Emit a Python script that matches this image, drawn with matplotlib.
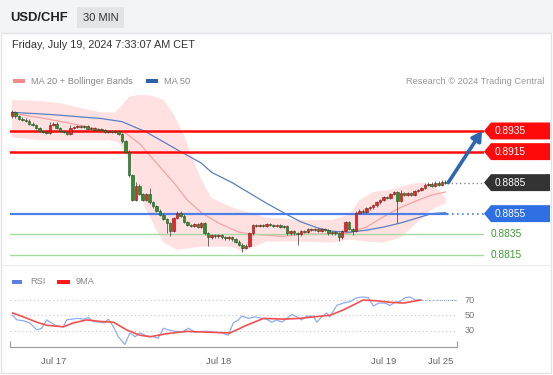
"""
USD/CHF 30 MIN chart (Trading Central style) -> out.png
"""
import matplotlib
matplotlib.use("Agg")
import matplotlib.pyplot as plt
from matplotlib.patches import Rectangle, Polygon

plt.rcParams["font.family"] = ["Liberation Sans", "DejaVu Sans"]

W, H = 553, 375

# ── price data (30 min candles, index = candle number) ─────────────
first_open = 0.8949
closes = [
    0.8953, 0.8949, 0.8947, 0.8946, 0.8945, 0.8942, 0.8941, 0.8938, 0.8935, 0.8934,
    0.8933, 0.8941, 0.8942, 0.8938, 0.8935, 0.8934, 0.8932, 0.8938, 0.8939, 0.8940,
    0.8939, 0.8940, 0.8937, 0.8938, 0.8936, 0.8937, 0.8936, 0.8934, 0.8935, 0.8934,
    0.8935, 0.8932, 0.8925, 0.8915, 0.8892, 0.8868, 0.8882, 0.8874, 0.8868, 0.8874,
    0.8866, 0.8862, 0.8858, 0.8854, 0.8850, 0.8846, 0.8838, 0.8851, 0.8856, 0.8853,
    0.8847, 0.8844, 0.8843, 0.8845, 0.8842, 0.8846, 0.8836, 0.8832, 0.8834, 0.8833,
    0.8834, 0.8832, 0.8831, 0.8832, 0.8830, 0.8828, 0.8825, 0.8822, 0.8824, 0.8836,
    0.8844, 0.8843, 0.8844, 0.8843, 0.8845, 0.8844, 0.8843, 0.8844, 0.8842, 0.8843,
    0.8836, 0.8838, 0.8836, 0.8835, 0.8838, 0.8837, 0.8840, 0.8839, 0.8840, 0.8838,
    0.8840, 0.8839, 0.8836, 0.8837, 0.8836, 0.8832, 0.8838, 0.8847, 0.8840, 0.8838,
    0.8856, 0.8858, 0.8857, 0.8860, 0.8861, 0.8863, 0.8866, 0.8868, 0.8871, 0.8870,
    0.8874, 0.8876, 0.8867, 0.8875, 0.8873, 0.8875, 0.8873, 0.8877, 0.8878, 0.8880,
    0.8883, 0.8884, 0.8882, 0.8885, 0.8883, 0.8886, 0.8885,
]
wick = 0.00012
long_highs = {0: 0.8955, 11: 0.8944, 17: 0.8941, 36: 0.8886, 40: 0.8880, 100: 0.8858, 113: 0.8878}
long_lows = {45: 0.8836, 46: 0.8833, 57: 0.8824, 67: 0.8818, 83: 0.8825, 95: 0.8829,
             99: 0.8834, 112: 0.8846}

# ── indicators ─────────────────────────────────────────────────────
upper_t = [0, 8, 14, 20, 26, 30, 32, 34, 37, 41, 44, 47, 50, 52, 55, 58, 64, 69, 74, 84,
           93, 98, 101, 105, 110, 115, 119, 122, 124, 126]
upper_v = [0.8965, 0.8964, 0.8962, 0.8957, 0.8953, 0.8953, 0.8960, 0.8968, 0.8970, 0.8969,
           0.8965, 0.8951, 0.8931, 0.8912, 0.8888, 0.8870, 0.8861, 0.8856, 0.8851, 0.8849,
           0.8849, 0.8854, 0.8868, 0.8876, 0.8878, 0.8883, 0.8885, 0.8883, 0.8878, 0.8870]
lower_t = [0, 8, 20, 28, 31, 34, 36, 39, 42, 44, 48, 55, 64, 67, 74, 84, 93, 98, 103, 108,
           113, 118, 122, 126]
lower_v = [0.8929, 0.8926, 0.8926, 0.8926, 0.8924, 0.8907, 0.8883, 0.8859, 0.8839, 0.8827,
           0.8820, 0.8823, 0.8823, 0.8818, 0.8828, 0.8828, 0.8827, 0.8830, 0.8828, 0.8827,
           0.8832, 0.8847, 0.8859, 0.8865]
ma20_t = [0, 8, 16, 26, 33, 37, 42, 47, 51, 55, 60, 66, 70, 79, 84, 98, 103, 108, 113, 118, 122, 126]
ma20_v = [0.8952, 0.8948, 0.8943, 0.8936, 0.8933, 0.8923, 0.8904, 0.8885, 0.8868, 0.8856,
          0.8846, 0.8837, 0.8835, 0.8833, 0.8835, 0.8836, 0.8842, 0.8852, 0.8861, 0.8868,
          0.8873, 0.8876]
ma50_t = [0, 11, 26, 32, 39, 49, 55, 58, 64, 68, 74, 80, 84, 89, 93, 98, 103, 108, 113, 118, 122, 126]
ma50_v = [0.8953, 0.8951, 0.8947, 0.8944, 0.8934, 0.8915, 0.8904, 0.8895, 0.8885, 0.8877,
          0.8865, 0.8854, 0.8847, 0.8841, 0.8838, 0.8837, 0.8839, 0.8842, 0.8846, 0.8851,
          0.8855, 0.8856]

# ── RSI panel ─────────────────────────────────────────────────────
rsi_t = [0.2, 1.4, 3.3, 5.2, 7.2, 8.6, 10.1, 11.5, 13.0, 14.9, 15.9, 17.3, 19.3, 20.7, 22.2,
         23.6, 25.6, 27.0, 28.0, 29.5, 30.9, 32.8, 34.3, 35.8, 37.2, 39.2, 41.1, 42.5, 44.0,
         45.4, 47.4, 49.3, 51.3, 53.2, 55.1, 57.1, 59.0, 61.0, 62.9, 64.3, 65.8, 66.8, 68.7,
         70.6, 72.6, 74.0, 75.5, 76.9, 78.4, 79.9, 81.3, 82.8, 84.2, 85.7, 87.6, 88.6, 90.0,
         91.5, 92.4, 94.4, 96.3, 98.3, 100.2, 102.1, 103.6, 105.1, 106.5, 108.4, 109.9, 111.3,
         112.8, 114.2, 115.7, 117.2, 118.8]
rsi_v = [50, 44, 43, 40, 31, 33, 44, 40, 36, 35, 44, 45, 46, 45, 47, 42, 41, 40, 45, 35,
         22, 12, 27, 22, 27, 23, 22, 20, 33, 31, 29, 28, 33, 28, 29, 29, 28, 27, 24, 40,
         44, 49, 46, 48, 46, 45, 41, 44, 41, 46, 51, 48, 44, 49, 49, 41, 48, 53, 48, 63,
         66, 68, 73, 74, 73, 62, 66, 66, 63, 67, 68, 73, 74, 70, 70]
ma9_t = [0.2, 3.3, 7.2, 10.1, 14.9, 17.8, 21.7, 25.6, 29.5, 33.3, 37.2, 40.1, 45.0, 50.8,
         56.6, 63.4, 68.2, 73.1, 78.9, 83.7, 87.6, 92.4, 96.3, 102.1, 106.0, 109.9, 113.8, 118.8]
ma9_v = [53, 48, 41, 37, 35, 40, 44, 42, 41, 31, 24, 22, 26, 29, 28, 27, 37, 46, 45, 46,
         48, 50, 57, 70, 69, 67, 66, 70]
rsi_levels = [30, 50, 70]

# ── levels / axis labels ──────────────────────────────────────────
resistances = [0.8935, 0.8915]
pivot = 0.8855
supports = [0.8835, 0.8815]
last_price = 0.8885
target = 0.8935
date_pos = [12, 60, 108, 124.7]
date_labels = ["Jul 17", "Jul 18", "Jul 19", "Jul 25"]

# ── palette ───────────────────────────────────────────────────────
UP = "#e8262a"
DOWN = "#2f8f2f"
RED = "#ff0a0a"
BLUE_LVL = "#4d7fe8"
GREEN_LVL = "#a9d9a3"
GREEN_TXT = "#3d9b35"


def px(x0, x1):
    return x0 / W, x1 / W


fig = plt.figure(figsize=(W / 100, H / 100), dpi=100, facecolor="white")

# decoration layer in pixel coordinates
ov = fig.add_axes([0, 0, 1, 1], zorder=0)
ov.set_xlim(0, W)
ov.set_ylim(H, 0)
ov.axis("off")
ov.add_patch(Rectangle((0, 0), W, 33, color="#f3f4f6", lw=0))
ov.add_patch(Rectangle((1, 33), W - 3, H - 35, fill=False, ec="#e2e3e6", lw=1))
ov.plot([1, W - 2], [265, 265], color="#ececec", lw=0.8)
ov.text(10, 18, "USD/CHF", fontsize=9.4, fontweight="bold", color="#222", va="center")
ov.add_patch(Rectangle((77, 7), 47, 21, color="#e3e4e7", lw=0))
ov.text(100.5, 18, "30 MIN", fontsize=8, color="#333", va="center", ha="center")
ov.text(12, 44.5, "Friday, July 19, 2024 7:33:07 AM CET", fontsize=7.8, color="#333", va="center")
ov.add_patch(Rectangle((13, 79), 12, 3.5, color="#f28b8b", lw=0))
ov.text(31, 81, "MA 20 + Bollinger Bands", fontsize=6.7, color="#888", va="center")
ov.add_patch(Rectangle((146, 79), 12, 3.5, color="#2f5fa5", lw=0))
ov.text(164, 81, "MA 50", fontsize=6.7, color="#888", va="center")
ov.text(544, 81, "Research © 2024 Trading Central", fontsize=6.7, color="#999", va="center", ha="right")
ov.add_patch(Rectangle((12, 280), 10, 3.5, color="#5b80e0", lw=0))
ov.text(30, 282, "RSI", fontsize=6.7, color="#888", va="center")
ov.add_patch(Rectangle((57, 280), 13, 3.5, color="#ff1a1a", lw=0))
ov.text(76, 282, "9MA", fontsize=6.7, color="#888", va="center")

# ── main price axes ───────────────────────────────────────────────
XMIN, XMAX = -0.58, 137.2
ax = fig.add_axes([10 / W, 1 - 265 / H, 474 / W, 170 / H], zorder=2)
ax.set_facecolor("none")
ax.set_xlim(XMIN, XMAX)
ax.set_ylim(0.88053, 0.89698)
ax.set_xticks([])
ax.set_yticks([])
for s in ax.spines.values():
    s.set_visible(False)

ax.fill_between(upper_t, upper_v, 0.8800, color="none")
# Bollinger band as polygon (upper edge forward, lower edge back)
band = list(zip(upper_t, upper_v)) + list(zip(lower_t, lower_v))[::-1]
ax.add_patch(Polygon(band, closed=True, color="#ffe1e1", lw=0, zorder=1))
ax.plot(ma20_t, ma20_v, color="#f6a3a3", lw=0.9, zorder=2)
ax.plot(ma50_t, ma50_v, color="#5b7fc2", lw=0.9, zorder=2)

n = len(closes)
for lv in resistances:
    ax.axhline(lv, color=RED, lw=1.8, zorder=3)
for lv in supports:
    ax.axhline(lv, color=GREEN_LVL, lw=1.0, zorder=3)
ax.plot([XMIN, n - 0.5], [pivot, pivot], color=BLUE_LVL, lw=1.6, zorder=3)
ax.plot([n - 0.5, XMAX], [pivot, pivot], color=BLUE_LVL, lw=1.2, ls=(0, (1, 2)), zorder=3)
ax.plot([n - 0.5, XMAX], [last_price, last_price], color="#888", lw=1.0, ls=(0, (1, 2)), zorder=3)

# candles
opens = [first_open] + closes[:-1]
for i, (o, c) in enumerate(zip(opens, closes)):
    hi = long_highs.get(i, max(o, c) + wick)
    lo = long_lows.get(i, min(o, c) - wick)
    col = UP if c >= o else DOWN
    edge = "#8a1010" if c >= o else "#1d4f1d"
    ax.vlines(i, lo, hi, color="#555", lw=0.6, zorder=4)
    body = max(abs(c - o), 0.00005)
    ax.bar(i, body, bottom=min(o, c), width=0.72, color=col, edgecolor=edge, lw=0.4, zorder=5)

# forecast arrow
ax.annotate("", xy=(136.6, target), xytext=(n - 0.2, last_price),
            arrowprops=dict(arrowstyle="-|>,head_length=0.55,head_width=0.32",
                            color="#2f66ad", lw=2.6, shrinkA=0, shrinkB=0),
            annotation_clip=False, zorder=6)

# right-hand price tags
yt = ax.get_yaxis_transform()
hh = 0.00082
x_tip, x_box, x_end = 1.0, (491 - 10) / 474, (550 - 10) / 474
tags = [(resistances[0], RED), (resistances[1], RED), (last_price, "#333333"), (pivot, "#2f6fe4")]
for lv, col in tags:
    poly = Polygon([(x_tip, lv), (x_box, lv + hh), (x_end, lv + hh), (x_end, lv - hh), (x_box, lv - hh)],
                   closed=True, transform=yt, color=col, lw=0, clip_on=False, zorder=6)
    ax.add_patch(poly)
    ax.text((495 - 10) / 474, lv, f"{lv:.4f}", transform=yt, color="white", fontsize=7.3,
            va="center", ha="left", clip_on=False, zorder=7)
for lv in supports:
    ax.text((491 - 10) / 474, lv, f"{lv:.4f}", transform=yt, color=GREEN_TXT, fontsize=7.3,
            va="center", ha="left", clip_on=False)

# ── RSI axes ──────────────────────────────────────────────────────
rx = fig.add_axes([10 / W, 1 - 347 / H, 474 / W, 59 / H], zorder=2)
rx.set_facecolor("none")
rx.set_xlim(XMIN, XMAX)
rx.set_ylim(8.6, 85.7)
rx.set_yticks([])
for s in ["top", "right", "left"]:
    rx.spines[s].set_visible(False)
rx.spines["bottom"].set_color("#9a9a9a")
rx.spines["bottom"].set_bounds(XMIN, 129.3)
for lv in rsi_levels:
    rx.plot([XMIN, 129.3], [lv, lv], color="#c8c8c8", lw=0.8, ls=(0, (1, 2.5)))
    rx.text(131.6, lv, str(lv), fontsize=6.6, color="#777", va="center", ha="left")
rx.plot(rsi_t, rsi_v, color="#8facf0", lw=0.9, zorder=3)
rx.plot(ma9_t, ma9_v, color="#f25050", lw=1.2, zorder=4)
rx.plot([rsi_t[-1], 129.3], [rsi_v[-1], rsi_v[-1]], color="#7f9be6", lw=0.9, ls=(0, (1, 2)))

rx.set_xticks([XMIN, 129.3])
rx.set_xticklabels(["", ""])
rx.tick_params(axis="x", which="major", direction="in", length=4, color="#9a9a9a", width=0.8)
rx.set_xticks(date_pos, minor=True)
rx.set_xticklabels(date_labels, minor=True)
rx.tick_params(axis="x", which="minor", length=0, pad=7, labelsize=6.8, labelcolor="#666")

fig.savefig("out.png", dpi=100, facecolor="white")
